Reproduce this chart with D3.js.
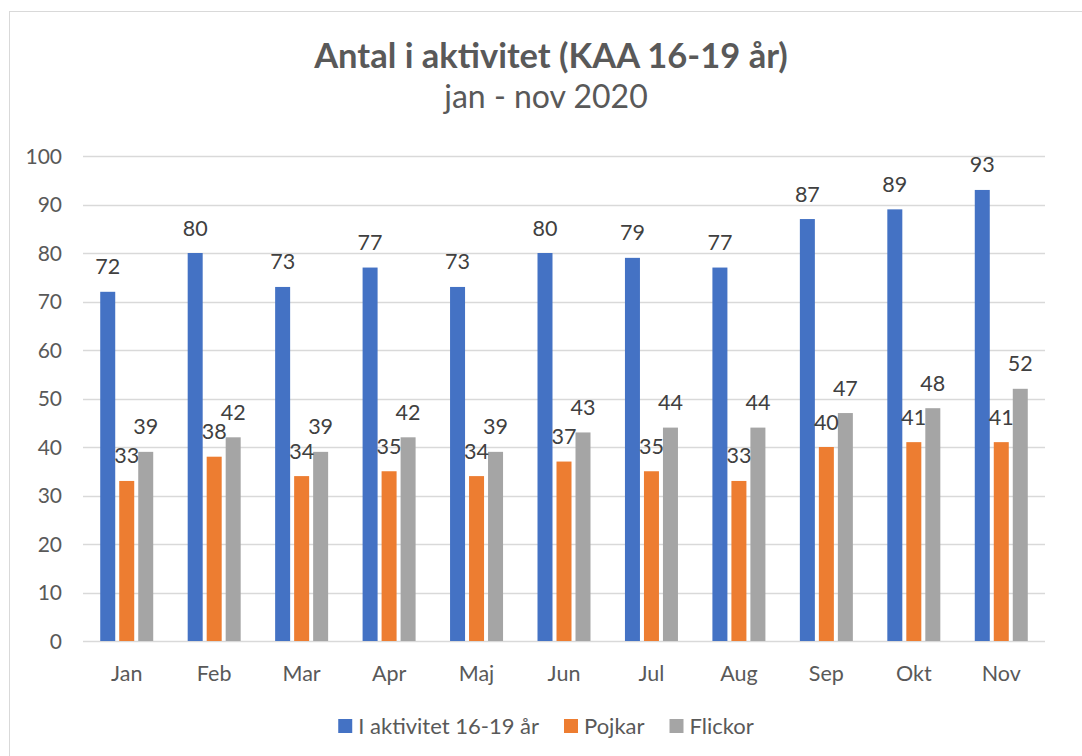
<!DOCTYPE html>
<html>
<head>
<meta charset="utf-8">
<script src="https://cdn.jsdelivr.net/npm/d3@7"></script>
<style>
  body { margin: 0; background: #fff; }
  text { font-family: Lato, "Open Sans", sans-serif; }
</style>
</head>
<body>
<script>
// data
var months = ["Jan","Feb","Mar","Apr","Maj","Jun","Jul","Aug","Sep","Okt","Nov"];
var seriesNames = ["I aktivitet 16-19 år","Pojkar","Flickor"];
var aktivitet = [72,80,73,77,73,80,79,77,87,89,93];
var pojkar = [33,38,34,35,34,37,35,33,40,41,41];
var flickor = [39,42,39,42,39,43,44,44,47,48,52];
var yTicks = [0,10,20,30,40,50,60,70,80,90,100];
var colors = ["#4472c4","#ed7d31","#a5a5a5"];

var series = [aktivitet, pojkar, flickor];

var W = 1082, H = 756;
var margin = {left:83, right:37, top:156, bottom:115};

var svg = d3.select("body").append("svg").attr("width",W).attr("height",H);

// chart border
svg.append("rect")
    .attr("x",9.5).attr("y",11.5)
    .attr("width",W).attr("height",H)
    .attr("fill","white")
    .attr("stroke","#d9d9d9")
    .attr("stroke-width",1);

svg.append("text")
    .attr("x",551).attr("y",68)
    .attr("text-anchor","middle")
    .attr("fill","#595959")
    .attr("font-weight","bold")
    .attr("font-size","34.5px")
    .text("Antal i aktivitet (KAA 16-19 år)");

svg.append("text")
    .attr("x",546).attr("y",108)
    .attr("text-anchor","middle")
    .attr("fill","#595959")
    .attr("font-size","32px")
    .text("jan - nov 2020");

var x0 = d3.scaleBand()
    .domain(months)
    .range([margin.left, W - margin.right]);

var x1 = d3.scaleBand()
    .domain(d3.range(series.length))
    .range([-28.5, 28.5]);

var y = d3.scaleLinear()
    .domain([0,100])
    .range([H - margin.bottom, margin.top]);

// gridlines
svg.append("g")
    .selectAll("line")
    .data(yTicks)
    .enter().append("line")
    .attr("x1",margin.left).attr("x2",W - margin.right)
    .attr("y1",function(d){ return Math.round(y(d))+0.5; })
    .attr("y2",function(d){ return Math.round(y(d))+0.5; })
    .attr("stroke","#d9d9d9")
    .attr("stroke-width",1.3);

// y tick labels
svg.append("g")
    .selectAll("text")
    .data(yTicks)
    .enter().append("text")
    .attr("x",62)
    .attr("y",function(d){ return y(d)+7.5; })
    .attr("text-anchor","end")
    .attr("fill","#595959")
    .attr("font-size","21px")
    .text(function(d){ return d; });

// x labels
svg.append("g")
    .selectAll("text")
    .data(months)
    .enter().append("text")
    .attr("x",function(d){ return x0(d)+x0.bandwidth()/2; })
    .attr("y",681)
    .attr("text-anchor","middle")
    .attr("fill","#595959")
    .attr("font-size","21.5px")
    .text(function(d){ return d; });

var groups = svg.append("g")
    .selectAll("g")
    .data(months)
    .enter().append("g")
    .attr("transform",function(d){ return "translate("+(x0(d)+x0.bandwidth()/2)+",0)"; });

groups.selectAll("rect")
    .data(function(d,i){ return series.map(function(s,k){ return {k:k, v:s[i]}; }); })
    .enter().append("rect")
    .attr("x",function(d){ return x1(d.k)+2; })
    .attr("width",x1.bandwidth()-4)
    .attr("y",function(d){ return y(d.v); })
    .attr("height",function(d){ return y(0)-y(d.v); })
    .attr("fill",function(d){ return colors[d.k]; });

groups.selectAll("text")
    .data(function(d,i){ return series.map(function(s,k){ return {k:k, v:s[i]}; }); })
    .enter().append("text")
    .attr("x",function(d){ return x1(d.k)+x1.bandwidth()/2; })
    .attr("y",function(d){ return y(d.v)-17.5; })
    .attr("text-anchor","middle")
    .attr("fill","#404040")
    .attr("font-size","21.5px")
    .text(function(d){ return d.v; });

// legend
var legend = svg.append("g");
var lx = 0;
seriesNames.forEach(function(name,k){
    var item = legend.append("g").attr("transform","translate("+lx+",0)");
    item.append("rect")
        .attr("x",0).attr("y",719)
        .attr("width",14).attr("height",14)
        .attr("fill",colors[k]);
    var t = item.append("text")
        .attr("x",20).attr("y",733.5)
        .attr("fill","#595959")
        .attr("font-size","22px")
        .text(name);
    lx += 20 + t.node().getComputedTextLength() + 25;
});
lx -= 25;
legend.attr("transform","translate("+(546 - lx/2)+",0)");
</script>
</body>
</html>
